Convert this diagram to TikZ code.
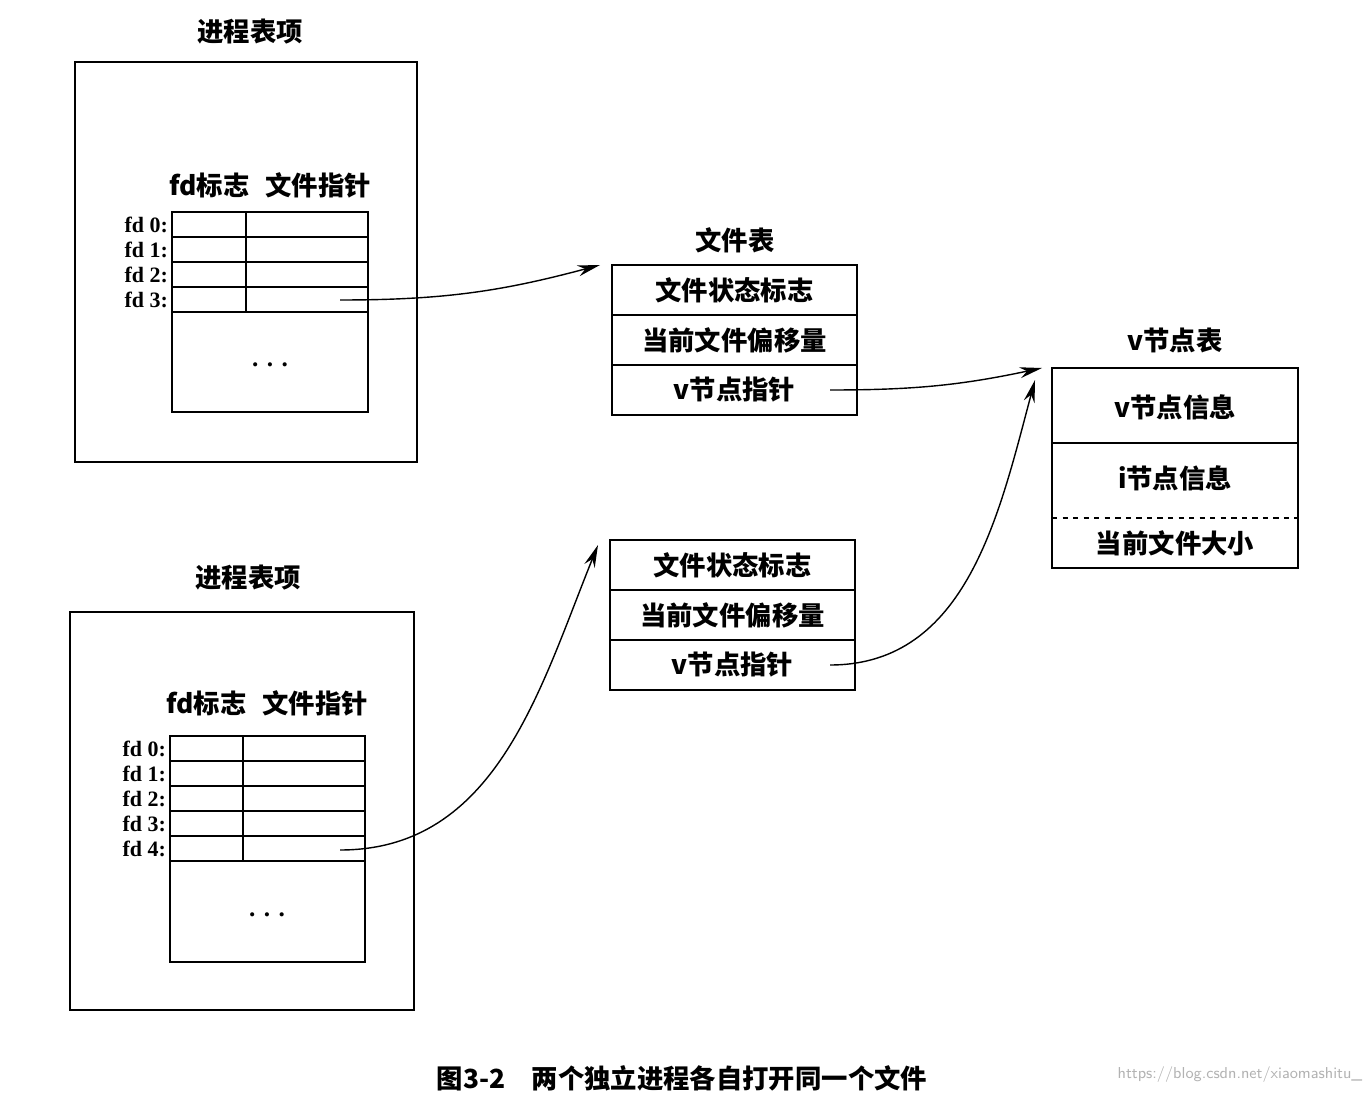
\documentclass[tikz,border=0pt]{standalone}
\usepackage{fontspec}
\setmainfont{Liberation Serif}
\newfontfamily\cjk{Noto Sans CJK SC}
\usetikzlibrary{arrows.meta,positioning}
\tikzset{
  cell/.style={draw, thick, minimum height=1cm, minimum width=4.9cm, inner sep=0pt, font=\cjk\fontsize{15}{15}\selectfont\bfseries},
  head/.style={font=\cjk\fontsize{15}{15}\selectfont\bfseries},
  fdl/.style={anchor=east, inner sep=1pt, font=\fontsize{12.5}{12.5}\selectfont\bfseries},
  ptr/.style={thick, -{Stealth[length=4.5mm,width=2.2mm]}}
}
\begin{document}
\begin{tikzpicture}[x=0.02cm,y=-0.02cm]
    \useasboundingbox (0,0) rectangle (1368,1094);
    % process table entry 1
    \node [head] (p1) at (250,32) {进程表项};
    \draw [thick] (75,62) rectangle (417,462);
    \node [head] (f1) at (270,185) {fd标志\hspace{0.6em}文件指针};
    \foreach \i/\y in {0/212,1/237,2/262,3/287} {
        \draw [thick] (172,\y) rectangle (246,\y+25);
        \draw [thick] (246,\y) rectangle (368,\y+25);
        \node [fdl] (fdA\i) at (170,\y+12.5) {fd \i:};
    }
    \draw [thick] (172,312) rectangle (368,412);
    \node (dA) at (270,365) {\Large\textbf{. . .}};
    \coordinate (sA) at (340,300);
    % process table entry 2
    \node [head] (p2) at (248,578) {进程表项};
    \draw [thick] (70,612) rectangle (414,1010);
    \node [head] (f2) at (267,703) {fd标志\hspace{0.6em}文件指针};
    \foreach \i/\y in {0/736,1/761,2/786,3/811,4/836} {
        \draw [thick] (170,\y) rectangle (243,\y+25);
        \draw [thick] (243,\y) rectangle (365,\y+25);
        \node [fdl] (fdB\i) at (168,\y+12.5) {fd \i:};
    }
    \draw [thick] (170,861) rectangle (365,962);
    \node (dB) at (267,915) {\Large\textbf{. . .}};
    \coordinate (sB) at (340,850);
    % file tables
    \node [head] (ft) at (735,240) {文件表};
    \node [cell] (a1) at (734.5,290) {文件状态标志};
    \node [cell] (a2) at (734.5,340) {当前文件偏移量};
    \node [cell] (a3) at (734.5,390) {v节点指针};
    \coordinate (sa) at (830,390);
    \node [cell] (b1) at (732.5,565) {文件状态标志};
    \node [cell] (b2) at (732.5,615) {当前文件偏移量};
    \node [cell] (b3) at (732.5,665) {v节点指针};
    \coordinate (sb) at (830,665);
    % v-node table
    \node [head] (vt) at (1175,340) {v节点表};
    \draw [thick] (1052,368) rectangle (1298,568);
    \draw [thick] (1052,443) -- (1298,443);
    \draw [thick, dashed] (1052,518) -- (1298,518);
    \node [head] (v1) at (1175,407) {v节点信息};
    \node [head] (v2) at (1175,478) {i节点信息};
    \node [head] (v3) at (1175,543) {当前文件大小};
    \coordinate (ta) at (600,265);
    \coordinate (tb) at (598,545);
    \coordinate (tv) at (1042,368);
    \coordinate (tw) at (1035,380);
    % pointers
    \draw [ptr] (sA) to[out=0, in=195] (ta);
    \draw [ptr] (sB) to[out=0, in=-112] (tb);
    \draw [ptr] (sa) to[out=0, in=192] (tv);
    \draw [ptr] (sb) to[out=0, in=-105] (tw);
    % caption
    \node [head] (cap) at (682,1078) {图3-2\hspace{1em}两个独立进程各自打开同一个文件};
    \node [gray!60, font=\sffamily\small] (wm) at (1240,1075) {https://blog.csdn.net/xiaomashitu\_};
\end{tikzpicture}
\end{document}
